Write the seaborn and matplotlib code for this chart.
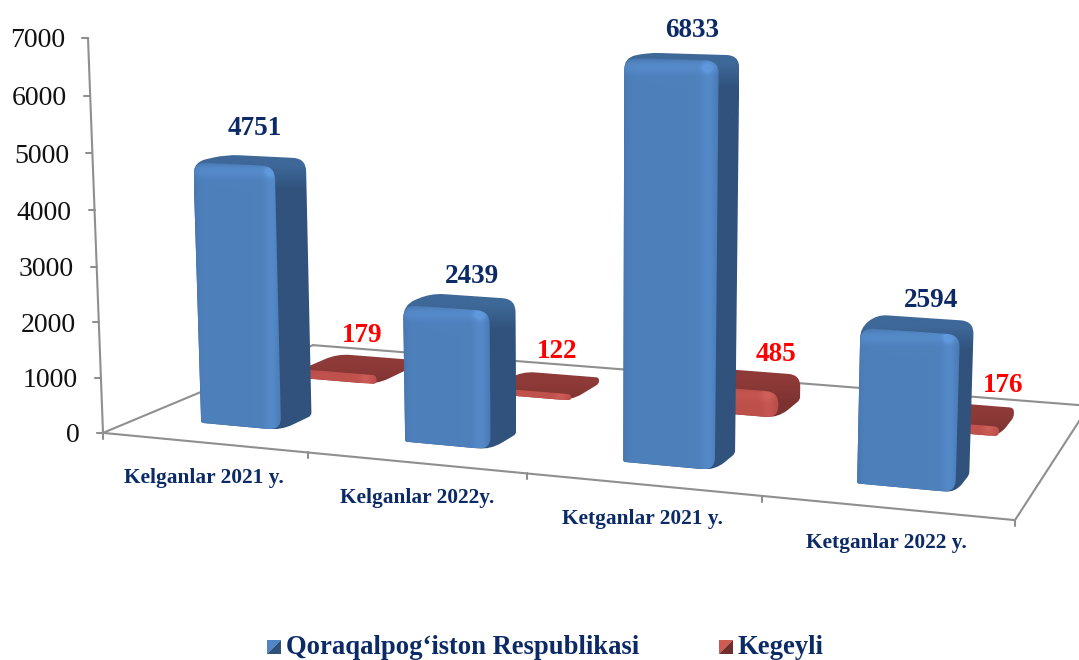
import numpy as np
import pandas as pd
import seaborn as sns
import matplotlib
matplotlib.use('Agg')
import matplotlib.pyplot as plt
from matplotlib.path import Path
from matplotlib.patches import PathPatch, Polygon

periods = ['Kelganlar 2021 y.', 'Kelganlar 2022y.', 'Ketganlar 2021 y.', 'Ketganlar 2022 y.']
regions = ['Qoraqalpog‘iston Respublikasi', 'Kegeyli']
qoraqalpog = [4751, 2439, 6833, 2594]
kegeyli = [179, 122, 485, 176]
y_ticks = [0, 1000, 2000, 3000, 4000, 5000, 6000, 7000]

NAVY = '#0b2a66'
GRID = '#8f8f8f'

sns.set_theme(style='white')
plt.rcParams['font.family'] = ['Liberation Serif', 'DejaVu Serif']

# (category, depth, value) -> pixel, fitted on the corners of the floor and axis
world = np.array([[0, 0, 0], [4, 0, 0], [4, 1, 0], [0, 1, 0], [0, 0, 7000], [4, 0, 7000]], float)
pixel = np.array([[103, 433], [1015, 520], [1089, 406], [313, 345], [88, 38], [1030, 66]], float)


def fit_camera(world, pixel):
    rows, rhs = [], []
    for (u, d, v), (px, py) in zip(world, pixel):
        v = v / 7000
        rows.append([u, d, v, 1, 0, 0, 0, 0, -px*u, -px*d, -px*v])
        rows.append([0, 0, 0, 0, u, d, v, 1, -py*u, -py*d, -py*v])
        rhs += [px, py]
    return np.linalg.lstsq(np.array(rows), np.array(rhs), rcond=None)[0]


cam = fit_camera(world, pixel)


def project(u, d, v):
    v = v / 7000
    w = cam[8]*u + cam[9]*d + cam[10]*v + 1
    return np.array([(cam[0]*u + cam[1]*d + cam[2]*v + cam[3]) / w,
                     (cam[4]*u + cam[5]*d + cam[6]*v + cam[7]) / w])


def rounded(points, radii):
    verts, codes = [], []
    n = len(points)
    for i in range(n):
        prev, cur, nxt = points[i-1], points[i], points[(i+1) % n]
        a = np.linalg.norm(prev - cur)
        b = np.linalg.norm(nxt - cur)
        r = min(radii[i], a*0.48, b*0.48)
        start = cur + (prev - cur) / a * r
        end = cur + (nxt - cur) / b * r
        verts += [start, cur, end]
        codes += [Path.MOVETO if i == 0 else Path.LINETO, Path.CURVE3, Path.CURVE3]
    verts.append(verts[0])
    codes.append(Path.CLOSEPOLY)
    return Path(verts, codes)


def gradient(ax, path, image, zorder):
    box = path.get_extents()
    patch = PathPatch(path, facecolor='none', edgecolor='none', transform=ax.transData)
    ax.add_patch(patch)
    im = ax.imshow(image, extent=(box.x0, box.x1, box.y1, box.y0), origin='upper',
                   aspect='auto', interpolation='bilinear', zorder=zorder)
    im.set_clip_path(patch)


def front_image(size, base, light, dark, top):
    w, h = int(size[0]) + 2, int(size[1]) + 2
    xx, yy = np.meshgrid(np.arange(w) + 0.5, np.arange(h) + 0.5)
    base, light, dark, top = [np.array(c) / 255 for c in (base, light, dark, top)]
    small = min(1.0, h / 40)
    band_x = np.exp(-((xx - (w - 11)) / 6.0)**2)
    band_y = np.exp(-((yy - 9) / 6.0)**2)
    spot = np.exp(-((xx - (w - 12))**2 + (yy - 10)**2) / 22.0)
    glow = np.clip(0.5*band_x + small*(0.55*band_y + 1.0*spot), 0, 1.3)[..., None]
    shade = np.clip(np.exp(-xx / 4.0) + np.exp(-(w - xx) / 3.0), 0, 1)[..., None] * 0.5
    img = base + (light - base) * glow
    img = img + (dark - base) * shade
    # soft edge towards the top face
    fade = (np.exp(-yy / 2.0) * small)[..., None] * 0.7
    return np.clip(img + (top - img) * fade, 0, 1)


def shell_image(size, upper, lower):
    h = int(size[1]) + 2
    yy = np.arange(h)[:, None] + 0.5
    upper, lower = np.array(upper) / 255, np.array(lower) / 255
    k = np.clip((yy - 12) / 24.0, 0, 1)[..., None]
    return upper + (lower - upper) * k


def draw_bar(ax, u0, u1, d0, d1, value, colors, zorder):
    fb = [project(u0, d0, 0), project(u1, d0, 0), project(u1, d1, 0)]
    ft = [project(u0, d0, value), project(u1, d0, value), project(u1, d1, value), project(u0, d1, value)]
    r = 13
    shell = rounded(np.array([fb[0], ft[0], ft[3], ft[2], fb[2], fb[1]]), [2, r, r, r, 3, r])
    box = shell.get_extents()
    gradient(ax, shell, shell_image((box.width, box.height), colors['top'], colors['side']), zorder)
    front = rounded(np.array([fb[0], ft[0], ft[1], fb[1]]), [2, r, r, r])
    box = front.get_extents()
    gradient(ax, front, front_image((box.width, box.height), colors['base'], colors['light'], colors['dark'], colors['top']),
             zorder + 1)
    return ft


blue_faces = {'base': (78, 128, 188), 'light': (92, 148, 214), 'dark': (62, 108, 164),
              'top': (62, 104, 152), 'side': (48, 82, 124)}
red_faces = {'base': (190, 80, 76), 'light': (204, 92, 88), 'dark': (172, 70, 66),
             'top': (142, 58, 56), 'side': (124, 50, 48)}

fig = plt.figure(figsize=(10.79, 6.60), dpi=100)

# seaborn works out the bars on a hidden axes, the 3D shapes are built from them
ax_bars = fig.add_axes([0, 0, 1, 1])
df = pd.DataFrame({'period': periods * 2,
                   'people': qoraqalpog + kegeyli,
                   'region': [regions[0]] * 4 + [regions[1]] * 4})
sns.barplot(data=df, x='period', y='people', hue='region', dodge=False, width=0.40,
            palette=['#4e80bc', '#be504c'], legend=False, ax=ax_bars)
bars = [(p.get_x(), p.get_width(), p.get_height()) for c in ax_bars.containers for p in c]
ax_bars.set_visible(False)

ax = fig.add_axes([0, 0, 1, 1])
ax.set_xlim(0, 1079)
ax.set_ylim(660, 0)
ax.set_autoscale_on(False)
ax.axis('off')

# floor and axis lines
for a, b in [((0, 0, 0), (4, 0, 0)), ((4, 0, 0), (4, 1, 0)), ((0, 0, 0), (0, 1, 0)),
             ((0, 1, 0), (4, 1, 0)), ((0, 0, 0), (0, 0, 7000))]:
    p, q = project(*a), project(*b)
    ax.plot([p[0], q[0]], [p[1], q[1]], color=GRID, lw=1.5, zorder=1, solid_capstyle='round')

for v in y_ticks:
    p = project(0, 0, v)
    ax.plot([p[0] - 6, p[0]], [p[1], p[1]], color=GRID, lw=1.5, zorder=1)
    ax.text(p[0] - 23, p[1], str(v), ha='right', va='center_baseline', fontsize=20, color='#111111')

for i in range(5):
    p = project(i, 0, 0)
    ax.plot([p[0], p[0]], [p[1], p[1] + 6], color=GRID, lw=1.5, zorder=1)

label_shift_x = [0, 2, 0, 0]
for i, name in enumerate(periods):
    p = project(i + 0.5, 0, 0)
    ax.text(p[0] + label_shift_x[i], p[1] + 35, name, ha='center', va='center', fontsize=15.4,
            fontweight='bold', color=NAVY)

# red row sits behind the blue one
red_dx, red_dy = [-11, -3, 17, 33], [1, -1, 5, 3]
z = 10
for k, (x, width, height) in list(enumerate(bars))[4:]:
    u0 = x + 0.51
    ft = draw_bar(ax, u0, u0 + width, 0.64, 0.83, height, red_faces, z)
    z += 2
    c = (ft[2] + ft[3]) / 2
    ax.text(c[0] + red_dx[k - 4], c[1] - 22 + red_dy[k - 4], str(kegeyli[k - 4]), ha='center', va='center',
            fontsize=19.5, fontweight='bold', color='#ff0000', zorder=40)

blue_dx, blue_dy = [-11, -1, -1, 6], [0, 8, 4, 11]
z = 20
for k, (x, width, height) in list(enumerate(bars))[:4]:
    u0 = x + 0.51
    ft = draw_bar(ax, u0, u0 + width, 0.155, 0.30, height, blue_faces, z)
    z += 2
    c = (ft[2] + ft[3]) / 2
    ax.text(c[0] + blue_dx[k], c[1] - 28 + blue_dy[k], str(qoraqalpog[k]), ha='center', va='center',
            fontsize=19.5, fontweight='bold', color=NAVY, zorder=40)

# legend
for left, name, light, dark in [(267, regions[0], '#4f86c6', '#2f5078'), (719, regions[1], '#cf5b52', '#6e2f2d')]:
    ax.add_patch(Polygon([(left, 640), (left + 14, 640), (left, 654)], facecolor=light, edgecolor='none'))
    ax.add_patch(Polygon([(left + 14, 640), (left + 14, 654), (left, 654)], facecolor=dark, edgecolor='none'))
    ax.text(left + 19, 648, name, ha='left', va='center', fontsize=19.2, fontweight='bold', color=NAVY)

fig.savefig('out.png', dpi=100)
